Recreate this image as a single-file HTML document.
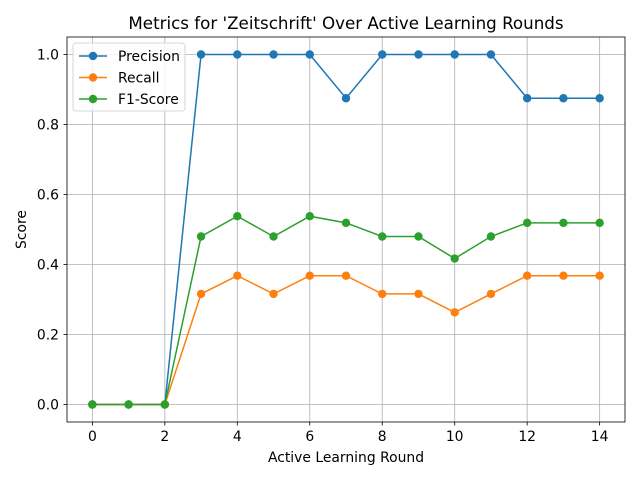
<!DOCTYPE html>
<html><head><meta charset="utf-8"><style>
body{margin:0;background:#fff;}
svg{display:block;font-family:"DejaVu Sans","Liberation Sans",sans-serif;}
</style></head><body>
<svg id="chart" width="640" height="480"></svg>
<script>
const rounds=[0,1,2,3,4,5,6,7,8,9,10,11,12,13,14];
const precision=[0,0,0,1,1,1,1,0.875,1,1,1,1,0.875,0.875,0.875];
const recall=[0,0,0,0.316,0.368,0.316,0.368,0.368,0.316,0.316,0.263,0.316,0.368,0.368,0.368];
const f1=[0,0,0,0.48,0.538,0.48,0.538,0.519,0.48,0.48,0.417,0.48,0.519,0.519,0.519];
const xTicks=[0,2,4,6,8,10,12,14];
const yTicks=[0,0.2,0.4,0.6,0.8,1.0];
const seriesNames=["Precision","Recall","F1-Score"];
const colors=["#1f77b4","#ff7f0e","#2ca02c"];

const NS="http://www.w3.org/2000/svg";
const svg=document.getElementById('chart');
const L=67,R=625,T=37,B=422;
const xmin=-0.7,xmax=14.7,ymin=-0.05,ymax=1.05;
const X=v=>L+(v-xmin)/(xmax-xmin)*(R-L);
const Y=v=>B-(v-ymin)/(ymax-ymin)*(B-T);
function mk(tag,attrs,parent){const e=document.createElementNS(NS,tag);for(const k in attrs)e.setAttribute(k,attrs[k]);(parent||svg).appendChild(e);return e;}

mk('rect',{x:0,y:0,width:640,height:480,fill:'#fff'});
const grid=mk('g',{});


xTicks.forEach(t=>{
  mk('line',{x1:X(t),x2:X(t),y1:T,y2:B,stroke:'#b0b0b0','stroke-width':0.8},grid);
  mk('line',{x1:X(t),x2:X(t),y1:B,y2:B+3.5,stroke:'#000','stroke-width':0.8});
  const tx=mk('text',{x:X(t),y:B+19,'text-anchor':'middle','font-size':13.9});
  tx.textContent=t;
  
  
});
yTicks.forEach(t=>{
  mk('line',{x1:L,x2:R,y1:Y(t),y2:Y(t),stroke:'#b0b0b0','stroke-width':0.8},grid);
  mk('line',{x1:L-3.5,x2:L,y1:Y(t),y2:Y(t),stroke:'#000','stroke-width':0.8});
  const tx=mk('text',{x:L-8,y:Y(t)+5,'text-anchor':'end','font-size':13.9});
  tx.textContent=t.toFixed(1);
  
  
});
[precision,recall,f1].forEach((s,i)=>{
  const g=mk('g',{});
  
  
  mk('polyline',{points:s.map((v,j)=>X(rounds[j])+','+Y(v)).join(' '),fill:'none',stroke:colors[i],'stroke-width':1.5},g);
  s.forEach((v,j)=>{
    const c=mk('circle',{cx:X(rounds[j]),cy:Y(v),r:4.2,fill:colors[i]},g);
    
    
  });
});
const frame=mk('rect',{x:L,y:T,width:R-L,height:B-T,fill:'none',stroke:'#000','stroke-width':0.8});


const title=mk('text',{x:(L+R)/2,y:29,'text-anchor':'middle','font-size':16.7});
title.textContent="Metrics for 'Zeitschrift' Over Active Learning Rounds";


const xl=mk('text',{x:(L+R)/2,y:462,'text-anchor':'middle','font-size':13.9});
xl.textContent='Active Learning Round';


const yl=mk('text',{x:0,y:0,'text-anchor':'middle','font-size':13.9,transform:`translate(26,${(T+B)/2}) rotate(-90)`});
yl.textContent='Score';


const lg=mk('g',{});


mk('rect',{x:73,y:43,width:112,height:68,rx:3,fill:'#fff','fill-opacity':0.8,stroke:'#ccc','stroke-width':0.8},lg);
seriesNames.forEach((n,i)=>{
  const y=56+i*21.5;
  mk('line',{x1:79,x2:107,y1:y,y2:y,stroke:colors[i],'stroke-width':1.5},lg);
  mk('circle',{cx:93,cy:y,r:4.2,fill:colors[i]},lg);
  const t=mk('text',{x:118,y:y+5,'font-size':13.9},lg);
  t.textContent=n;
  
  
});
</script>
</body></html>
